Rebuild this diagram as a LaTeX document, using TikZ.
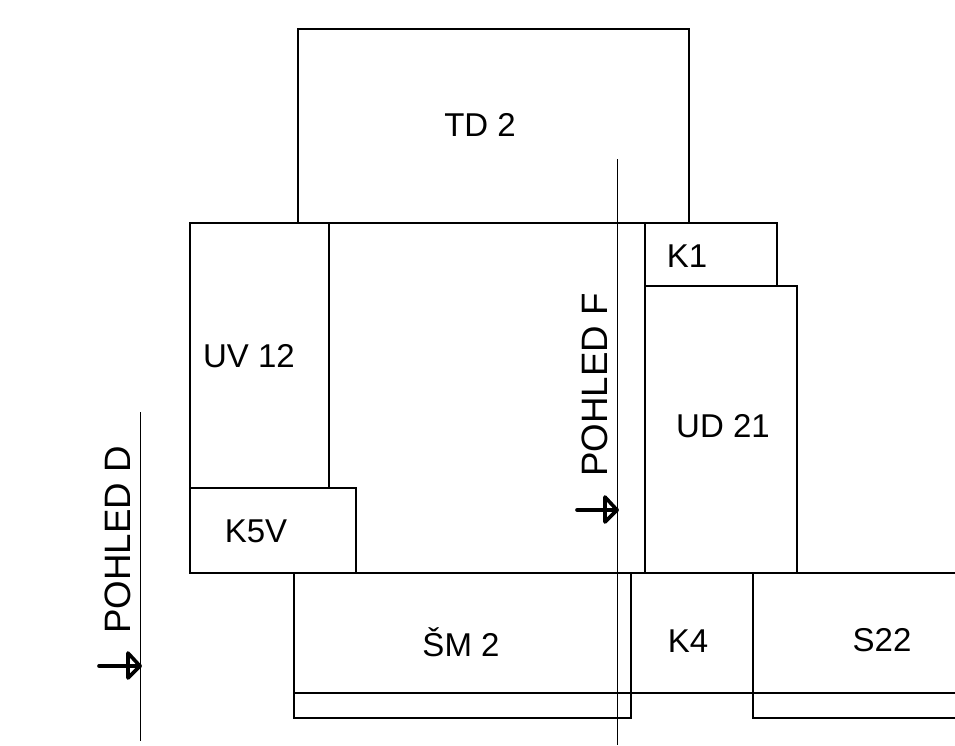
\documentclass[tikz,border=0pt]{standalone}
\usepackage{fontspec}
\setmainfont{Liberation Sans}
\tikzset{
  wall/.style={draw=black,line width=1.6pt,line cap=butt,line join=miter},
  thin line/.style={draw=black,line width=1pt},
  lbl/.style={inner sep=0pt,font=\fontsize{33}{36}\selectfont,text=black},
  viewlbl/.style={inner sep=0pt,font=\fontsize{36.7}{40}\selectfont,text=black,rotate=90},
  viewarrow/.style={draw=black,line width=3.6pt,line cap=round,line join=round}
}
\begin{document}
\begin{tikzpicture}[x=1pt,y=-1pt]
\useasboundingbox[fill=white] (0,0) rectangle (955,745);
% rooms
\draw[wall] (298,223) -- (298,29) -- (689,29) -- (689,223);
\draw[wall] (190,573) -- (190,223) -- (777,223) -- (777,286);
\draw[wall] (189.2,573) -- (955,573);
\draw[wall] (329,223) -- (329,488);
\draw[wall] (190,488) -- (356,488) -- (356,573);
\draw[wall] (645,223) -- (645,573);
\draw[wall] (645,286) -- (797,286) -- (797,573);
\draw[wall] (294,573) -- (294,718) -- (631,718) -- (631,573);
\draw[wall] (753,573) -- (753,718) -- (955,718);
\draw[wall] (294,693) -- (955,693);
% view lines
\coordinate (fT) at (617,159); \coordinate (fB) at (617,745);
\coordinate (dT) at (140,412); \coordinate (dB) at (140,741);
\draw[thin line] (fT) -- (fB);
\draw[thin line] (dT) -- (dB);
% view arrows
\coordinate (fS) at (577,510); \coordinate (fE) at (617,510);
\coordinate (fU) at (605,497); \coordinate (fL) at (605,522);
\draw[viewarrow] (fS) -- (fE);
\draw[viewarrow] (fU) -- (fE) -- (fL) -- cycle;
\coordinate (dS) at (99,666); \coordinate (dE) at (140,666);
\coordinate (dU) at (128,653); \coordinate (dL) at (128,678);
\draw[viewarrow] (dS) -- (dE);
\draw[viewarrow] (dU) -- (dE) -- (dL) -- cycle;
% labels
\node[lbl] (td) at (480,124.5) {TD 2};
\node[lbl] (k1) at (687,256) {K1};
\node[lbl] (uv) at (249,356.5) {UV 12};
\node[lbl] (ud) at (723,426) {UD 21};
\node[lbl] (k5) at (256,531) {K5V};
\node[lbl] (sm) at (461,642) {ŠM 2};
\node[lbl] (k4) at (688,641) {K4};
\node[lbl] (s) at (882,640.5) {S22};
\node[viewlbl] (pf) at (595,385) {POHLED F};
\node[viewlbl] (pd) at (118,540) {POHLED D};
\end{tikzpicture}
\end{document}
